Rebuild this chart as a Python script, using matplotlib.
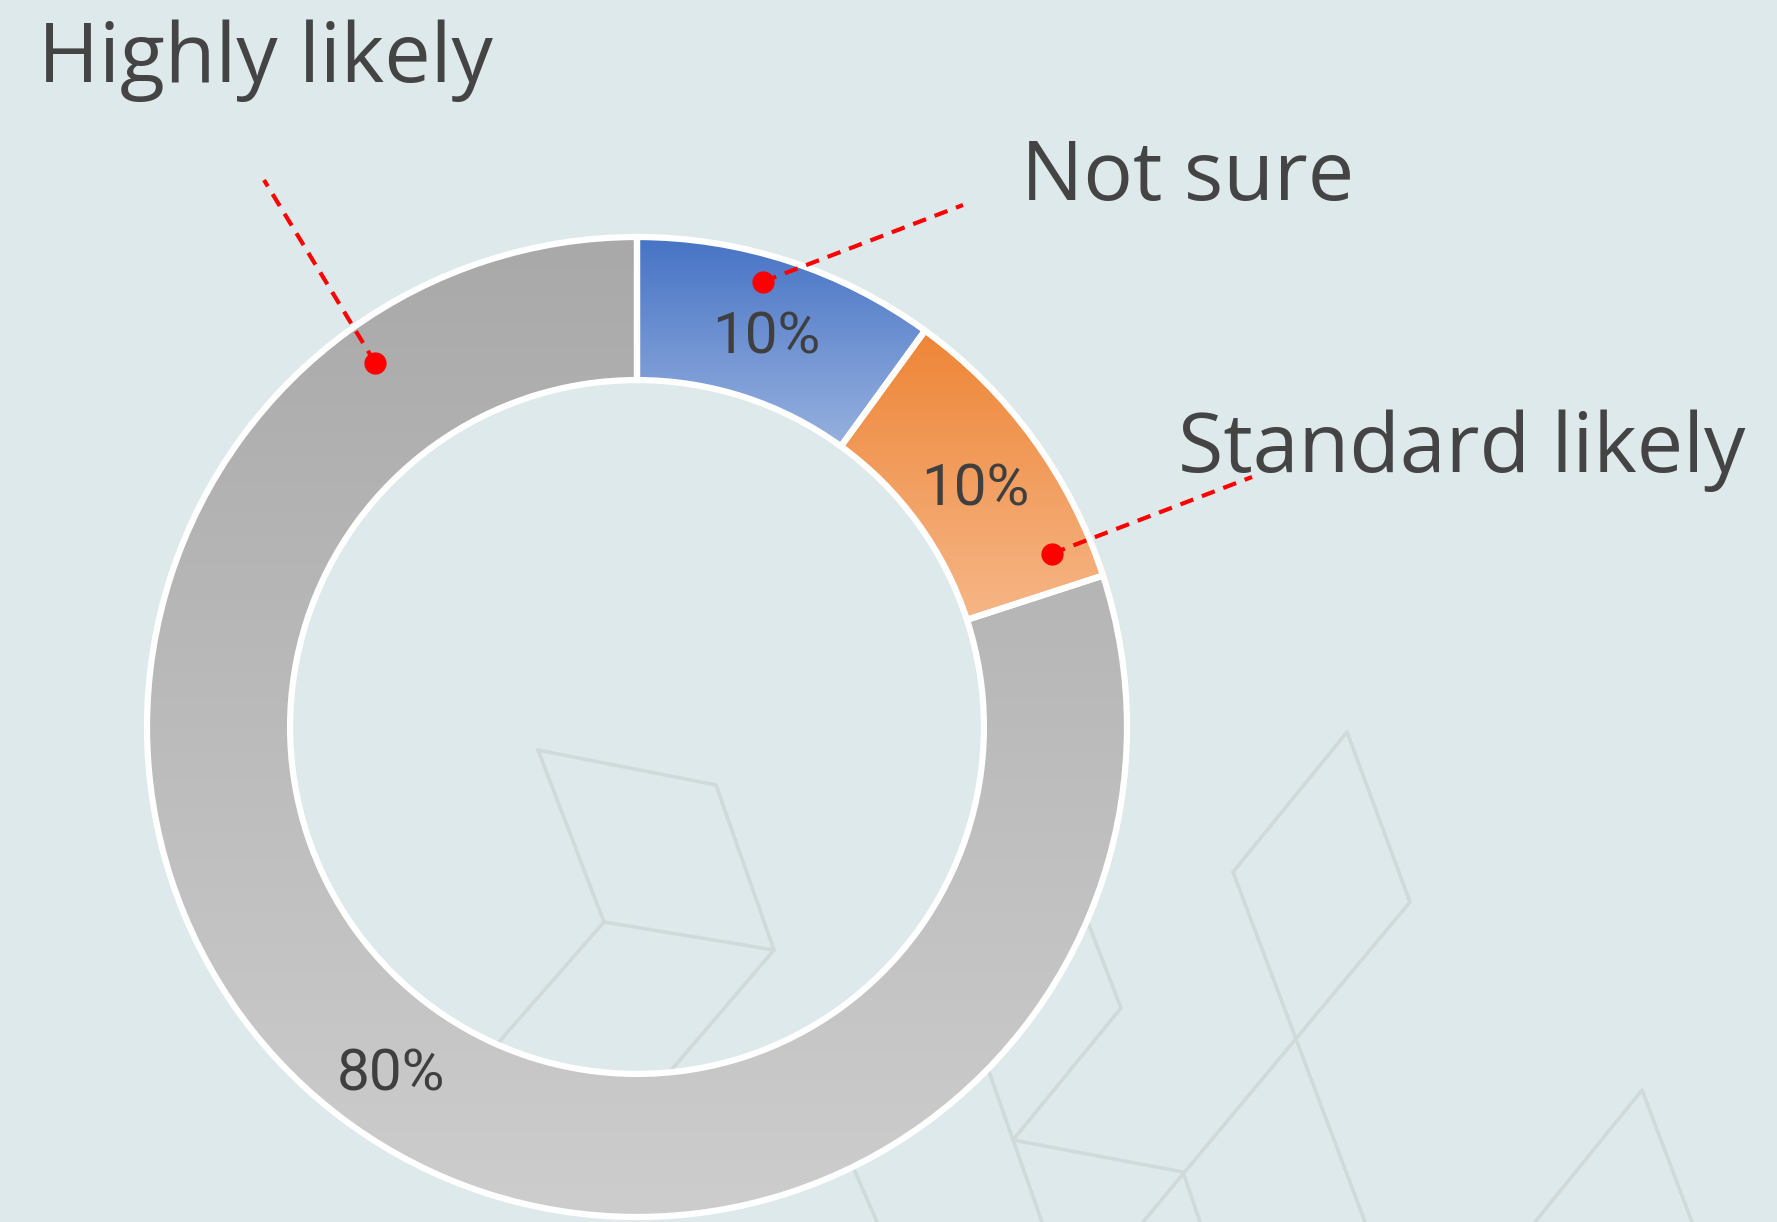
import numpy as np
import matplotlib
matplotlib.use("Agg")
import matplotlib.pyplot as plt
from matplotlib.colors import LinearSegmentedColormap

W, H = 1777, 1222

# survey answers, in drawing order (clockwise from 12 o'clock)
answers = ["Not sure", "Standard likely", "Highly likely"]
shares = [10, 10, 80]

# gradient fills, top colour -> bottom colour
grad_top = ["#4673c5", "#ee8536", "#a9a9a9"]
grad_bottom = ["#97b1df", "#f6b687", "#cdcdcd"]

# callout dot: fraction along the slice (clockwise) and fraction of radius
dot_along = [0.44, 0.87, 0.876]
dot_rad = [0.945, 0.918, 0.916]
# callout line ends and label baselines (pixel units, y up)
line_end = [(963, 1017), (1252, 745), (264, 1042)]
label_pos = [(1021, 1022), (1178, 750), (38, 1140)]

# faint background line work
deco = [
    [(538, 750), (716, 785), (774, 950), (604, 922), (538, 750)],
    [(604, 922), (470, 1075)],
    [(774, 950), (650, 1095)],
    [(1233, 872), (1347, 732), (1410, 902), (1143, 1222)],
    [(1233, 872), (1365, 1222)],
    [(1070, 876), (1121, 1008), (1013, 1140), (1183, 1172), (1200, 1222)],
    [(975, 1032), (1042, 1222)],
    [(850, 1160), (877, 1222)],
    [(1535, 1222), (1642, 1090), (1692, 1222)],
]

bg = "#dde9ea"
txt_col = "#444444"

fig = plt.figure(figsize=(W / 100, H / 100), dpi=100, facecolor=bg)
ax = fig.add_axes([0, 0, 1, 1])
ax.set_facecolor(bg)

for pts in deco:
    xs = [p[0] for p in pts]
    ys = [H - p[1] for p in pts]
    ax.plot(xs, ys, color="#d1dadb", lw=2.6, zorder=0.5, solid_capstyle="round")

center = (637, H - 727)
R = 490
wedges, _, pct = ax.pie(
    shares, radius=R, center=center, startangle=90, counterclock=False,
    autopct="%d%%", pctdistance=0.854,
    wedgeprops=dict(width=R * 0.292, edgecolor="white", linewidth=4.5),
    textprops=dict(family="Roboto", fontsize=42, color="#3f3f3f"),
)

for w, c0, c1 in zip(wedges, grad_top, grad_bottom):
    ext = w.get_path().get_extents()
    cmap = LinearSegmentedColormap.from_list("g", [c0, c1])
    im = ax.imshow(np.linspace(0, 1, 256).reshape(-1, 1), cmap=cmap,
                   extent=[ext.x0, ext.x1, ext.y0, ext.y1], origin="upper",
                   aspect="auto", zorder=2, interpolation="bilinear")
    im.set_clip_path(w)
    w.set_facecolor("none")
    w.set_zorder(3)

# percentages sit a little low in their slices
for t in pct:
    x, y = t.get_position()
    t.set_position((x, y - 9))
    t.set_zorder(5)

# callouts: red dot inside the slice, dashed line out to the label
for w, fa, fr, end, lp, name in zip(wedges, dot_along, dot_rad, line_end, label_pos, answers):
    th = np.radians(w.theta2 - fa * (w.theta2 - w.theta1))
    dx = center[0] + fr * R * np.cos(th)
    dy = center[1] + fr * R * np.sin(th)
    ax.plot([dx, end[0]], [dy, end[1]], color="red", lw=3,
            dashes=(3.3, 2.2), zorder=6)
    ax.plot(dx, dy, "o", color="red", ms=15, zorder=7)
    ax.text(lp[0], lp[1], name, family="Open Sans", fontsize=59.5,
            color=txt_col, ha="left", va="baseline", zorder=8)

ax.set_xlim(0, W)
ax.set_ylim(0, H)
ax.set_aspect("equal")
ax.axis("off")

fig.savefig("out.png", dpi=100, facecolor=bg)
